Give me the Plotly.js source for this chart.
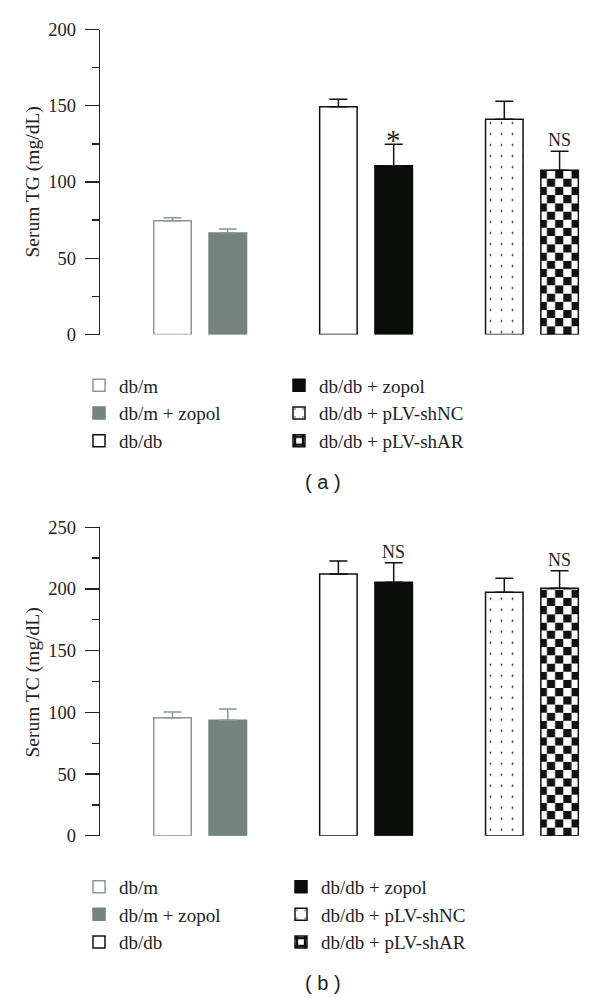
<!DOCTYPE html>
<html><head><meta charset="utf-8">
<script src="https://cdn.plot.ly/plotly-3.0.1.min.js"></script>
<style>html,body{margin:0;padding:0;background:#fff}</style>
</head><body><div id="chart" style="width:600px;height:998px"></div>
<script>
// ---- data ----
const groups = ['db/m', 'db/m + zopol', 'db/db', 'db/db + zopol', 'db/db + pLV-shNC', 'db/db + pLV-shAR'];
const positions = [0, 1, 3, 4, 6, 7];
const tgMean = [74.6, 66.6, 149.4, 110.7, 141.1, 107.7];
const tgErr = [2.0, 2.6, 4.8, 14.0, 11.8, 12.4];
const tcMean = [95.7, 93.5, 212.1, 205.4, 197.3, 200.5];
const tcErr = [4.6, 9.2, 10.6, 15.9, 11.4, 14.3];
const tgMarks = ['', '', '', '*', '', 'NS'];
const tcMarks = ['', '', '', 'NS', '', 'NS'];
const tgTicks = [0, 50, 100, 150, 200];
const tcTicks = [0, 50, 100, 150, 200, 250];
const captions = ['( a )', '( b )'];

// ---- styles ----
const INK = '#222';
const GRAYLINE = '#8a9793';
const styles = [
  {fill: '#ffffff', line: GRAYLINE, err: GRAYLINE},
  {fill: '#75837f', line: '#75837f', err: GRAYLINE},
  {fill: '#ffffff', line: '#111111', err: '#111111'},
  {fill: '#0a0c0a', line: '#0a0c0a', err: '#111111'},
  {fill: '#ffffff', line: '#111111', err: '#111111', pattern: {shape: '.', fgcolor: '#111', bgcolor: '#fff', size: 11, solidity: 0.02}},
  {checker: true, fill: 'rgba(0,0,0,0)', line: '#111111', err: '#111111'}
];
const markStyle = {'*': {size: 29, yshift: -14}, 'NS': {size: 18, yshift: -1}};
const ranks = [1, 3, 5, 2, 4, 6];
const BARW = 0.678;
const PW = 590, PH = 998;
const px = v => v / PW;
const py = v => 1 - v / PH;

const panels = [
  {means: tgMean, errs: tgErr, marks: tgMarks, ticks: tgTicks, title: 'Serum TG (mg/dL)', xa: 'x', ya: 'y', leg: 'legend',
   cell: 5.38, titleY: 182.5, capY: 481.7},
  {means: tcMean, errs: tcErr, marks: tcMarks, ticks: tcTicks, title: 'Serum TC (mg/dL)', xa: 'x2', ya: 'y2', leg: 'legend2',
   cell: 6.65, titleY: 682.5, capY: 982.7}
];

const traces = [];
const annotations = [];

panels.forEach((P, pi) => {
  groups.forEach((g, i) => {
    const st = styles[i];
    const errY = {type: 'data', symmetric: false, array: [P.errs[i]], arrayminus: [0],
                  color: st.err, thickness: 1.5, width: 9};
    if (st.checker) {
      // checkerboard built from stacked rows with alternating stripe phase
      const v = P.means[i], c = P.cell;
      const xs = [positions[i]], base = [0], ys = [0];
      const fg = ['#111'], bg = ['#fff'], shp = ['+'], lw = [1.5];
      const n = Math.ceil(v / c);
      for (let k = 0; k < n; k++) {
        xs.push(positions[i]); base.push(k * c); ys.push(Math.min(c, v - k * c));
        fg.push(k % 2 ? '#fff' : '#111'); bg.push(k % 2 ? '#111' : '#fff');
        shp.push('|'); lw.push(0);
      }
      traces.push({type: 'bar', x: xs, y: ys, base: base, width: BARW, name: g,
        xaxis: P.xa, yaxis: P.ya, legend: P.leg, legendrank: ranks[i], showlegend: true, cliponaxis: false,
        marker: {color: '#fff', line: {color: '#111', width: lw},
                 pattern: {shape: shp, fgcolor: fg, bgcolor: bg, size: 16.4, solidity: 0.5, fillmode: 'replace'}},
        hoverinfo: 'skip'});
      traces.push({type: 'bar', x: [positions[i]], y: [v], width: BARW, name: g,
        xaxis: P.xa, yaxis: P.ya, legend: P.leg, showlegend: false, cliponaxis: false,
        marker: {color: 'rgba(0,0,0,0)', line: {color: st.line, width: 1.5}},
        error_y: errY, hoverinfo: 'skip'});
    } else {
      const m = {color: st.fill, line: {color: st.line, width: 1.5}};
      if (st.pattern) m.pattern = st.pattern;
      traces.push({type: 'bar', x: [positions[i]], y: [P.means[i]], width: BARW, name: g,
        xaxis: P.xa, yaxis: P.ya, legend: P.leg, legendrank: ranks[i], showlegend: true, cliponaxis: false,
        marker: m, error_y: errY, hoverinfo: 'skip'});
    }
    if (P.marks[i]) {
      const ms = markStyle[P.marks[i]];
      annotations.push({x: positions[i], y: P.means[i] + P.errs[i], xref: P.xa, yref: P.ya,
        text: P.marks[i], showarrow: false, yanchor: 'bottom', yshift: ms.yshift,
        font: {family: 'Liberation Serif', size: ms.size, color: INK}});
    }
  });
  annotations.push({x: px(32), y: py(P.titleY), xref: 'paper', yref: 'paper', text: P.title,
    showarrow: false, textangle: -90, xanchor: 'center', yanchor: 'middle',
    font: {family: 'Liberation Serif', size: 19.5, color: INK}});
  annotations.push({x: px(322.7), y: py(P.capY), xref: 'paper', yref: 'paper', text: captions[pi],
    showarrow: false, xanchor: 'center', yanchor: 'middle',
    font: {family: 'Liberation Sans', size: 20, color: INK}});
});

function yAxis(ticks, domain, anchor) {
  return {domain: domain, range: [0, ticks[ticks.length - 1]], anchor: anchor,
    tickmode: 'array', tickvals: ticks, ticktext: ticks.map(String),
    ticks: 'outside', ticklen: 14, tickwidth: 1.3, tickcolor: INK,
    showline: true, linecolor: INK, linewidth: 1.3, showgrid: false, zeroline: false,
    minor: {tickmode: 'linear', tick0: 0, dtick: 25, ticks: 'outside', ticklen: 7, tickwidth: 1.3, tickcolor: INK, showgrid: false},
    tickfont: {family: 'Liberation Serif', size: 18.5, color: INK}, ticklabelstandoff: 5, fixedrange: true};
}
function xAxis(anchor) {
  return {domain: [px(100), px(590)], range: [-1.311, 7.55], anchor: anchor, visible: false, fixedrange: true};
}
function legendAt(topPx, ew) {
  return {orientation: 'h', x: px(79), xanchor: 'left', y: py(topPx), yanchor: 'top',
    entrywidth: ew, entrywidthmode: 'pixels', traceorder: 'normal', bgcolor: 'rgba(0,0,0,0)', borderwidth: 0,
    font: {family: 'Liberation Serif', size: 19, color: INK}};
}

const layout = {
  width: 600, height: 998, margin: {l: 0, r: 10, t: 0, b: 0},
  paper_bgcolor: '#fff', plot_bgcolor: 'rgba(0,0,0,0)',
  barmode: 'overlay', hovermode: false, showlegend: true,
  font: {family: 'Liberation Serif', color: INK, size: 18},
  xaxis: xAxis('y'), yaxis: yAxis(tgTicks, [py(334.5), py(29.5)], 'x'),
  xaxis2: xAxis('y2'), yaxis2: yAxis(tcTicks, [py(835.7), py(527.3)], 'x2'),
  legend: legendAt(366.5, 155), legend2: legendAt(867.8, 157),
  annotations: annotations
};

Plotly.newPlot('chart', traces, layout, {staticPlot: true, displayModeBar: false});
</script>
</body></html>
